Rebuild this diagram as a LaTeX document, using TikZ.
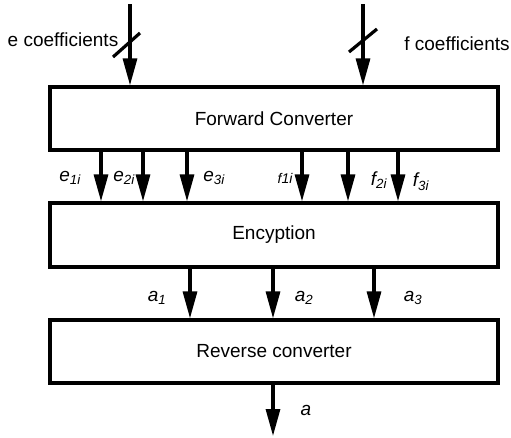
\documentclass[tikz,border=0pt]{standalone}
\usepackage{fontspec}
\setmainfont{Liberation Sans}
\usetikzlibrary{arrows.meta}

\tikzset{%
  block/.style={
    rectangle,
    draw,
    line width=3.2pt,
    minimum width=448pt,
    minimum height=63pt,
    font=\fontsize{19}{22}\selectfont
  },
  sig/.style={
    line width=3.2pt,
    -{Triangle[length=27pt,width=14pt]}
  },
  busmark/.style={line width=3.2pt},
  lbl/.style={font=\fontsize{19}{22}\selectfont\itshape, inner sep=0pt},
}

\begin{document}
\begin{tikzpicture}[x=1pt,y=-1pt]
\useasboundingbox (0,0) rectangle (511,437);
% blocks
\node[block] (fwd) at (274,118.5) {Forward Converter};
\node[block, minimum height=64pt] (enc) at (274,235) {Encyption};
\node[block] (rev) at (274,351.5) {Reverse converter};
% inputs
\coordinate (ein) at (130,4);
\coordinate (fin) at (363,4);
\draw[sig] (ein) -- (ein |- fwd.north);
\draw[sig] (fin) -- (fin |- fwd.north);
\draw[busmark] (113,57) -- (140,33);
\draw[busmark] (349,52) -- (377,29);
\node[font=\fontsize{19}{22}\selectfont, inner sep=0pt] (elab) at (63,40) {e coefficients};
\node[font=\fontsize{19}{22}\selectfont, inner sep=0pt] (flab) at (457,44) {f coefficients};
% converter outputs
\foreach \x in {101,143,187,302,348,398}
  \draw[sig] (fwd.south -| \x,0) -- (enc.north -| \x,0);
\node[lbl] (e1) at (70,178) {e\textsubscript{1i}};
\node[lbl] (e2) at (124,178) {e\textsubscript{2i}};
\node[lbl] (e3) at (214,178) {e\textsubscript{3i}};
\node[lbl, font=\fontsize{14}{16}\selectfont\itshape] (f1) at (285,178) {f1i};
\node[lbl] (f2) at (379,180) {f\textsubscript{2i}};
\node[lbl] (f3) at (421,182) {f\textsubscript{3i}};
% residues
\foreach \x in {190,273,374}
  \draw[sig] (enc.south -| \x,0) -- (rev.north -| \x,0);
\node[lbl] (a1) at (157,298) {a\textsubscript{1}};
\node[lbl] (a2) at (304,298) {a\textsubscript{2}};
\node[lbl] (a3) at (413,298) {a\textsubscript{3}};
% output
\coordinate (aout) at (273,436);
\draw[sig] (rev.south -| aout) -- (aout);
\node[lbl] (alab) at (306,410) {a};
\end{tikzpicture}
\end{document}
